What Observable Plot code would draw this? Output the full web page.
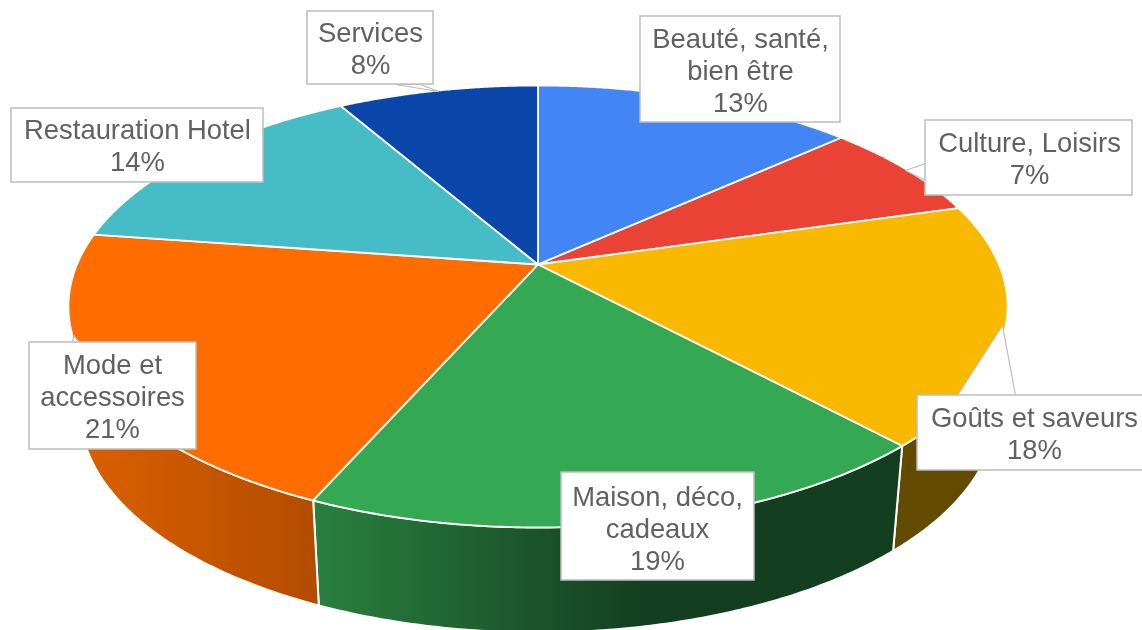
<!DOCTYPE html>
<html lang="fr">
<head>
<meta charset="utf-8">
<script src="https://cdn.jsdelivr.net/npm/d3@7"></script>
<script src="https://cdn.jsdelivr.net/npm/@observablehq/plot@0.6"></script>
<style>
  html, body { margin: 0; padding: 0; background: #fff; overflow: hidden; }
  svg { display: block; }
</style>
</head>
<body>
<div id="chart"></div>
<script>
// --- data ---
const categories = ["Beauté, santé,\nbien être", "Culture, Loisirs", "Goûts et saveurs", "Maison, déco,\ncadeaux", "Mode et\naccessoires", "Restauration Hotel", "Services"];
const shares = [13.3, 7.2, 17.6, 18.5, 20.7, 14.4, 8.3];

// --- styles ---
const topColors = ["#4285f4", "#ea4335", "#f9b900", "#34a853", "#ff6d00", "#46bdc6", "#0b47ab"];
const wallFills = [null, null, "#624b00", "url(#wallGreen)", "url(#wallOrange)", null, null];
const gradients = [
  {id: "wallGreen", from: "#2a803f", to: "#133f20", end: "56%"},
  {id: "wallOrange", from: "#dc6100", to: "#b34c00", end: "100%"}
];

// --- label layout, in chart pixels ---
const labelBoxes = [
  {x1: 640, x2: 840, y1: 16, y2: 122, cx: 740, cy: 69},
  {x1: 925, x2: 1132, y1: 120, y2: 195, cx: 1029, cy: 157},
  {x1: 917, x2: 1148, y1: 395, y2: 470, cx: 1034, cy: 432},
  {x1: 561, x2: 754, y1: 472, y2: 580, cx: 657, cy: 527},
  {x1: 29, x2: 196, y1: 342, y2: 449, cx: 112, cy: 395},
  {x1: 11, x2: 263, y1: 108, y2: 182, cx: 137, cy: 144},
  {x1: 307, x2: 433, y1: 11, y2: 84, cx: 370, cy: 47}
];
const callouts = [
  [[905, 170], [925, 163], [925, 180]],
  [[1002, 325], [1015, 395], [957, 395]],
  [[438, 91], [420, 84], [395, 84]],
  [[73, 335], [72, 342], [79, 342]]
];

// --- tilted-disc projection ---
const cx = 537.5, cy = 264, rx = 461, ry = 213, tilt = 0.19;
const wallDrop = 105, wallShrink = 0.975;
function rim(angle) {
  const u = Math.sin(angle), v = Math.cos(angle), d = 1 + tilt * v;
  return [rx * u / d, -ry * v / d];
}
const topPoint = (a) => { const [x, y] = rim(a); return {x: cx + x, y: cy + y}; };
const basePoint = (a) => { const [x, y] = rim(a); return {x: cx + x * wallShrink, y: cy + y + wallDrop}; };

const total = d3.sum(shares);
let running = 0;
const slices = shares.map((s, i) => {
  const a0 = running / total * 2 * Math.PI;
  running += s;
  const a1 = running / total * 2 * Math.PI;
  const steps = d3.range(0, 121).map((k) => a0 + (a1 - a0) * k / 120);
  return {
    i,
    top: [{x: cx, y: cy}, ...steps.map(topPoint)],
    wall: [...steps.map(topPoint), ...steps.slice().reverse().map(basePoint)]
  };
});

const shape = (points, fill, stroke, strokeWidth) =>
  Plot.line(points, {x: "x", y: "y", curve: "linear-closed", fill, stroke, strokeWidth});

const labels = labelBoxes.map((b, i) => ({...b, text: `${categories[i]}\n${Math.round(shares[i])}%`}));

const chart = Plot.plot({
  width: 1142,
  height: 630,
  margin: 0,
  style: {background: "#fff", filter: "blur(0.45px)"},
  x: {domain: [0, 1142], range: [0, 1142], axis: null},
  y: {domain: [0, 630], range: [0, 630], axis: null},
  marks: [
    () => {
      const defs = d3.create("svg:defs");
      gradients.forEach((g) => {
        const lg = defs.append("linearGradient").attr("id", g.id);
        lg.append("stop").attr("offset", "0%").attr("stop-color", g.from);
        lg.append("stop").attr("offset", g.end).attr("stop-color", g.to);
      });
      return defs.node();
    },
    ...slices.filter((s) => wallFills[s.i]).map((s) => shape(s.wall, wallFills[s.i], "#fff", 2)),
    ...slices.map((s) => shape(s.top, topColors[s.i], "#fff", 1.8)),
    ...callouts.map((c) => shape(c.map(([x, y]) => ({x, y})), "#fff", "#bdbdbd", 1.2)),
    Plot.rect(labels, {x1: "x1", x2: "x2", y1: "y1", y2: "y2", fill: "#fff", stroke: "#bdbdbd", strokeWidth: 1.5}),
    Plot.text(labels, {
      x: "cx", y: "cy", text: "text",
      fontFamily: "'Liberation Sans', Arial, sans-serif",
      fontSize: 27.4, lineHeight: 1.17, fill: "#616161", textAnchor: "middle"
    })
  ]
});
document.getElementById("chart").append(chart);
</script>
</body>
</html>
